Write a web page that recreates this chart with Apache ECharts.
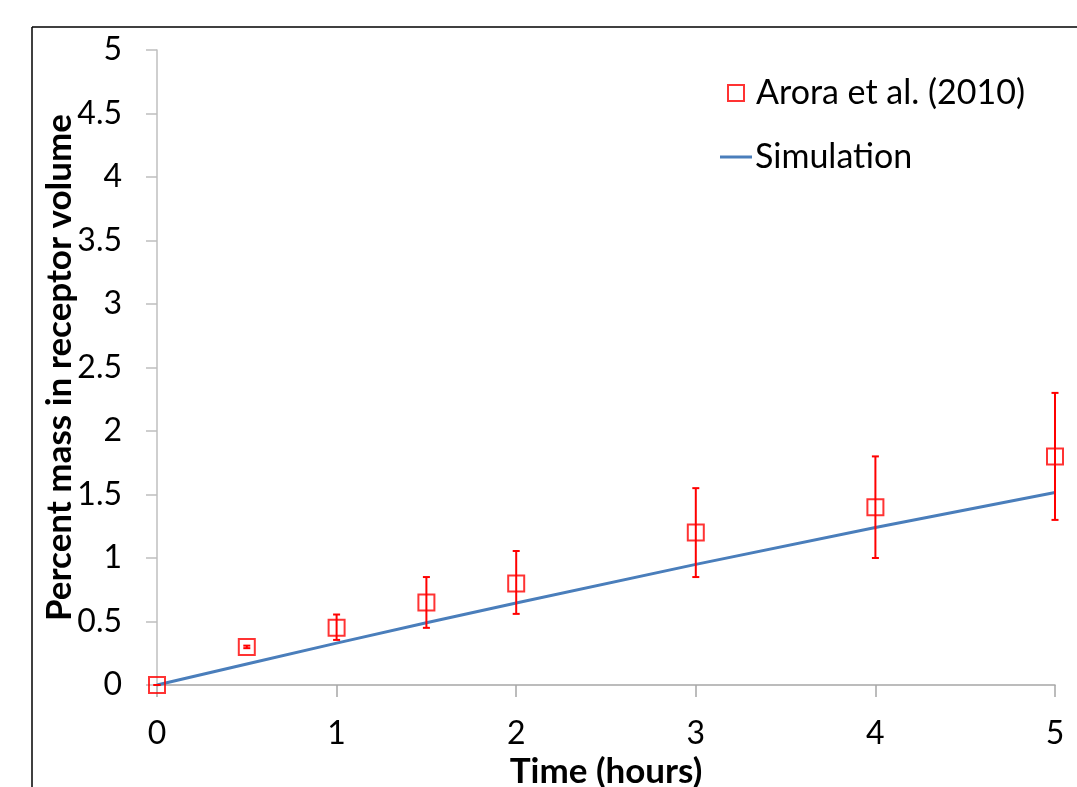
<!DOCTYPE html>
<html>
<head>
<meta charset="utf-8">
<script src="https://cdn.jsdelivr.net/npm/echarts@6/dist/echarts.min.js"></script>
<style>html,body{margin:0;padding:0;background:#fff;overflow:hidden}#c{width:1077px;height:787px}</style>
</head>
<body>
<div id="c"></div>
<script>
const expTime = [0, 0.5, 1, 1.5, 2, 3, 4, 5];
const expMean = [0, 0.30, 0.45, 0.65, 0.80, 1.20, 1.40, 1.80];
const expLow  = [0, 0.29, 0.355, 0.45, 0.56, 0.85, 1.00, 1.30];
const expHigh = [0, 0.31, 0.555, 0.85, 1.055, 1.55, 1.80, 2.30];
const simTime = [0, 0.5, 1, 1.5, 2, 3, 4, 5];
const simValue = [0, 0.165, 0.33, 0.49, 0.645, 0.95, 1.24, 1.515];
const xTicks = [0, 1, 2, 3, 4, 5];
const yTicks = [0, 0.5, 1, 1.5, 2, 2.5, 3, 3.5, 4, 4.5, 5];

const FONT = 'Lato';
const chart = echarts.init(document.getElementById('c'), null, {renderer: 'canvas'});
const expName = 'Arora et al. (2010)';
const simName = 'Simulation';

const option = {
  backgroundColor: '#fff',
  animation: false,
  grid: {left: 157, right: 22, top: 50, bottom: 102, containLabel: false, outerBoundsMode: 'none'},
  legend: [
    {left: 727, top: 76, padding: 0, itemWidth: 16, itemHeight: 16, itemGap: 0,
     textStyle: {fontFamily: FONT, fontSize: 34, color: '#000', padding: [0, 0, 0, 7]},
     data: [{name: expName, icon: 'rect', itemStyle: {color: 'transparent', borderColor: '#ff0000', borderWidth: 2}}]},
    {left: 720, top: 140, padding: 0, itemWidth: 32, itemHeight: 3, itemGap: 0,
     textStyle: {fontFamily: FONT, fontSize: 34, color: '#000', padding: [0, 0, 0, -2]},
     data: [{name: simName, icon: 'rect', itemStyle: {color: '#4a7ebb', borderWidth: 0}}]}
  ],
  xAxis: {
    type: 'value', min: 0, max: 5, interval: 1,
    name: 'Time (hours)', nameLocation: 'middle', nameGap: 69, nameMoveOverlap: false,
    nameTextStyle: {fontFamily: FONT, fontSize: 35, fontWeight: 'bold', color: '#000'},
    axisLine: {show: true, lineStyle: {color: '#a6a6a6', width: 1.5}},
    axisTick: {show: true, length: 12, lineStyle: {color: '#a6a6a6', width: 1.5}},
    axisLabel: {fontFamily: FONT, fontSize: 32, color: '#000', margin: 33,
      formatter: v => xTicks.includes(v) ? String(v) : ''},
    splitLine: {show: false}
  },
  yAxis: {
    type: 'value', min: 0, max: 5, interval: 0.5,
    name: 'Percent mass in receptor volume', nameLocation: 'middle', nameGap: 80, nameRotate: 90,
    nameMoveOverlap: false,
    nameTextStyle: {fontFamily: FONT, fontSize: 35, fontWeight: 'bold', color: '#000'},
    axisLine: {show: true, lineStyle: {color: '#bfbfbf', width: 1.5}},
    axisTick: {show: true, length: 11, lineStyle: {color: '#bfbfbf', width: 1.5}},
    axisLabel: {fontFamily: FONT, fontSize: 32, color: '#000', margin: 35,
      formatter: v => yTicks.includes(v) ? String(v) : ''},
    splitLine: {show: false}
  },
  series: [
    {
      name: simName, type: 'line', data: simTime.map((t, i) => [t, simValue[i]]),
      symbol: 'none', smooth: false, z: 2,
      lineStyle: {color: '#4a7ebb', width: 3}, itemStyle: {color: '#4a7ebb'}
    },
    {
      name: 'errors', type: 'custom', z: 3,
      data: expTime.map((t, i) => [t, expLow[i], expHigh[i]]),
      renderItem: function (params, api) {
        const x = api.value(0);
        const lo = api.coord([x, api.value(1)]);
        const hi = api.coord([x, api.value(2)]);
        const cw = 3.5;
        const st = {stroke: '#ff0000', lineWidth: 2};
        return {type: 'group', children: [
          {type: 'line', shape: {x1: lo[0], y1: lo[1], x2: hi[0], y2: hi[1]}, style: st},
          {type: 'line', shape: {x1: lo[0] - cw, y1: lo[1], x2: lo[0] + cw, y2: lo[1]}, style: st},
          {type: 'line', shape: {x1: hi[0] - cw, y1: hi[1], x2: hi[0] + cw, y2: hi[1]}, style: st}
        ]};
      },
      clip: false, silent: true
    },
    {
      name: expName, type: 'scatter', data: expTime.map((t, i) => [t, expMean[i]]),
      symbol: 'rect', symbolSize: 16, z: 4,
      itemStyle: {color: 'transparent', borderColor: '#ff0000', borderWidth: 2}
    }
  ],
  graphic: [
    {type: 'line', shape: {x1: 32, y1: 27, x2: 1077, y2: 27}, style: {stroke: '#000', lineWidth: 1.5}},
    {type: 'line', shape: {x1: 32, y1: 27, x2: 32, y2: 787}, style: {stroke: '#000', lineWidth: 1.5}}
  ]
};
chart.setOption(option);
</script>
</body>
</html>
